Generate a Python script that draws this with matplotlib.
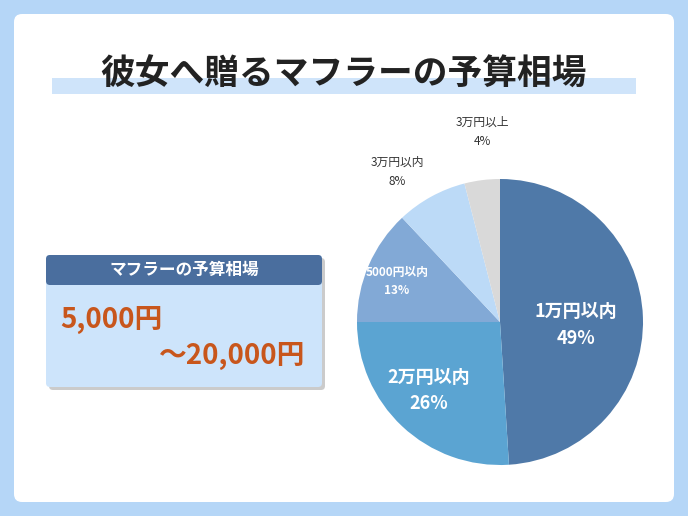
import matplotlib.pyplot as plt
from matplotlib.patches import FancyBboxPatch, Rectangle

plt.rcParams['font.family'] = 'Noto Sans CJK JP'

labels = ["1万円以内", "2万円以内", "5000円以内", "3万円以内", "3万円以上"]
shares = [49, 26, 13, 8, 4]
colors = ["#4f79a8", "#5ba4d2", "#82a9d6", "#bcdaf7", "#d9d9d9"]

W, H = 688, 516
fig = plt.figure(figsize=(W / 100, H / 100), dpi=100)
fig.patch.set_facecolor("#b5d6f7")
bg = fig.add_axes([0, 0, 1, 1])
bg.set_xlim(0, W)
bg.set_ylim(H, 0)
bg.axis("off")

bg.add_patch(FancyBboxPatch((14, 14), W - 28, H - 28, boxstyle="round,pad=0,rounding_size=8",
                            fc="white", ec="none"))
# title
bg.add_patch(Rectangle((52, 78), 584, 16, fc="#cfe4fa", ec="none"))
bg.text(344, 74, "彼女へ贈るマフラーの予算相場", fontsize=25, fontweight="bold",
        ha="center", va="center", color="#222222")

# left box
bg.add_patch(FancyBboxPatch((49, 258), 276, 132, boxstyle="round,pad=0,rounding_size=4",
                            fc="#999999", ec="none", alpha=0.5))
bg.add_patch(FancyBboxPatch((46, 255), 276, 132, boxstyle="round,pad=0,rounding_size=4",
                            fc="#cde4fb", ec="none"))
bg.add_patch(FancyBboxPatch((46, 255), 276, 30, boxstyle="round,pad=0,rounding_size=4",
                            fc="#4a6e9e", ec="none"))
bg.text(184, 270, "マフラーの予算相場", fontsize=12, fontweight="bold",
        ha="center", va="center", color="white")
bg.text(60, 320, "5,000円", fontsize=20, fontweight="bold", ha="left", va="center", color="#c8561c")
bg.text(305, 356, "～20,000円", fontsize=20, fontweight="bold", ha="right", va="center", color="#c8561c")

# pie
ax = fig.add_axes([357 / W, 1 - 465 / H, 286 / W, 286 / H])
wedges, _ = ax.pie(shares, colors=colors, startangle=90, counterclock=False,
                   wedgeprops=dict(linewidth=0))
ax.set_xlim(-1, 1)
ax.set_ylim(-1, 1)
ax.set_aspect("equal")

inside = [(0.53, -0.02, 13), (-0.5, -0.48, 13), (-0.72, 0.28, 8.5)]
for i, (x, y, fs) in enumerate(inside):
    ax.text(x, y, f"{labels[i]}\n{shares[i]}%", ha="center", va="center", fontsize=fs,
            fontweight="bold", color="white", linespacing=1.5)
ax.text(-0.72, 1.05, f"{labels[3]}\n{shares[3]}%", ha="center", va="center", fontsize=8.5,
        color="#333333", linespacing=1.6)
ax.text(-0.12, 1.33, f"{labels[4]}\n{shares[4]}%", ha="center", va="center", fontsize=8.5,
        color="#333333", linespacing=1.6)
ax.annotate("", xy=(-0.12, 1.02), xytext=(-0.12, 1.16),
            arrowprops=dict(arrowstyle="->", color="#333333", lw=0.8))

fig.savefig("out.png", dpi=100)
